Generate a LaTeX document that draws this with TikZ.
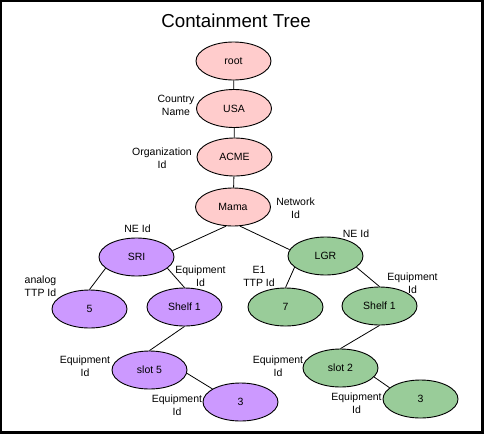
\documentclass[tikz,border=0pt]{standalone}
\usepackage{fontspec}
\setmainfont{Liberation Sans}
\usetikzlibrary{shapes.geometric, positioning}
\definecolor{rootpink}{RGB}{255,204,204}
\definecolor{sripurple}{RGB}{204,153,255}
\definecolor{lgrgreen}{RGB}{153,204,153}

\begin{document}
\begin{tikzpicture}[
  x=1pt, y=-1pt,
  tnode/.style={draw, ellipse, line width=0.9pt, minimum width=75pt, minimum height=38pt, inner sep=0pt, font=\fontsize{10.5}{13}\selectfont},
  pinknode/.style={tnode, fill=rootpink},
  purplenode/.style={tnode, fill=sripurple},
  greennode/.style={tnode, fill=lgrgreen},
  tag/.style={align=center, inner sep=0pt, font=\fontsize{10.5}{13.3}\selectfont},
  link/.style={line width=0.8pt}
]
\useasboundingbox (0,0) rectangle (484,434);
\fill[black] (0,0) rectangle (484,434);
\fill[white] (2,2) rectangle (481,431);

\node[font=\fontsize{18.75}{22}\selectfont] (title) at (236,21) {Containment Tree};

\node[pinknode] (root) at (233.5,61) {root};
\node[pinknode] (usa) at (234,108.5) {USA};
\node[pinknode] (acme) at (234.5,157) {ACME};
\node[pinknode] (mama) at (233,207) {Mama};

\node[purplenode] (sri) at (136.5,257) {SRI};
\node[purplenode] (five) at (89.5,309) {5};
\node[purplenode] (shelfa) at (184.5,307) {Shelf 1};
\node[purplenode] (slotfive) at (149.5,370) {slot 5};
\node[purplenode] (threea) at (240.5,402) {3};

\node[greennode] (lgr) at (325.5,256) {LGR};
\node[greennode] (seven) at (285.5,307) {7};
\node[greennode] (shelfb) at (379.5,306) {Shelf 1};
\node[greennode] (slottwo) at (340.5,368) {slot 2};
\node[greennode] (threeb) at (420.5,399) {3};

\node[tag] (countrytag) at (176,105.5) {Country\\Name};
\node[tag] (orgtag) at (162,158) {Organization\\Id};
\node[tag] (nettag) at (295.5,208) {Network\\Id};
\node[tag] (srinetag) at (137.5,229) {NE Id};
\node[tag] (lgrnetag) at (356,234) {NE Id};
\node[tag] (analogtag) at (40.5,286.5) {analog\\TTP Id};
\node[tag] (shelfatag) at (200.5,276.5) {Equipment\\Id};
\node[tag] (e1tag) at (259,276.5) {E1\\TTP Id};
\node[tag] (shelfbtag) at (412.5,283.5) {Equipment\\Id};
\node[tag] (slotfivetag) at (85,366.5) {Equipment\\Id};
\node[tag] (slottwotag) at (278,366) {Equipment\\Id};
\node[tag] (threeatag) at (177,405) {Equipment\\Id};
\node[tag] (threebtag) at (356.5,403.5) {Equipment\\Id};

\draw[link] (root) -- (usa);
\draw[link] (usa) -- (acme);
\draw[link] (acme) -- (mama);
\draw[link] (mama.-110) -- (sri.10);
\draw[link] (mama.-70) -- (lgr.170);
\draw[link] (sri.200) -- (five.north);
\draw[link] (sri.-20) -- (shelfa.north);
\draw[link] (shelfa.south) -- (slotfive.north);
\draw[link] (slotfive.-5) -- (threea.155);
\draw[link] (lgr.200) -- (seven.north);
\draw[link] (lgr.-20) -- (shelfb.north);
\draw[link] (shelfb.south) -- (slottwo.north);
\draw[link] (slottwo.-15) -- (threeb.160);
\end{tikzpicture}
\end{document}
